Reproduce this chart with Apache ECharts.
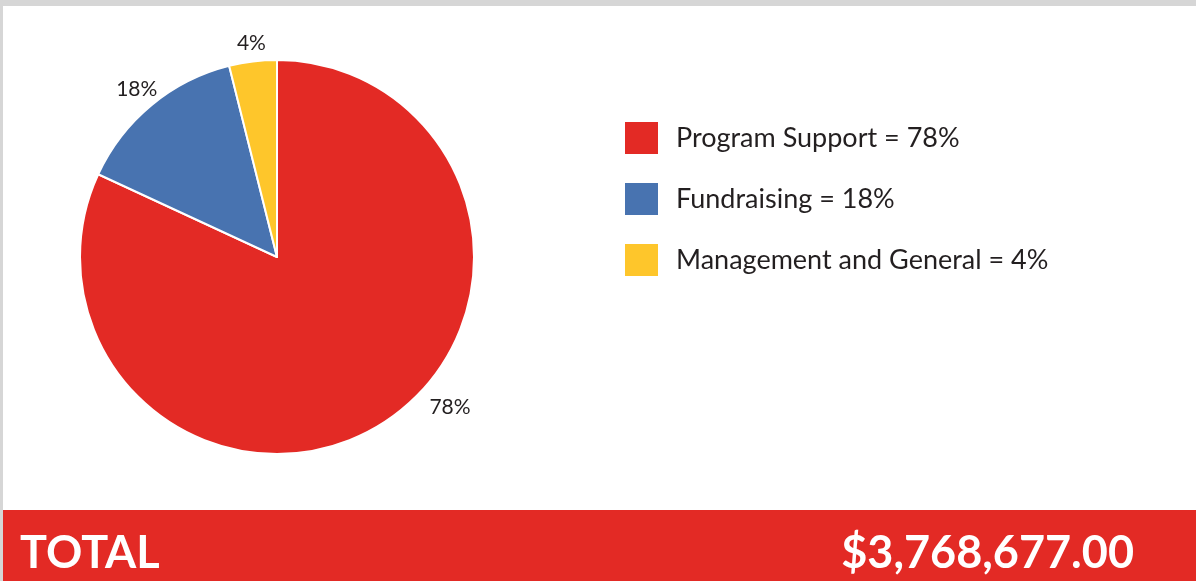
<!DOCTYPE html>
<html>
<head>
<meta charset="utf-8">
<style>
html,body{margin:0;padding:0;background:#fff;}
#chart{width:1196px;height:581px;}
</style>
<script src="https://cdn.jsdelivr.net/npm/echarts@6/dist/echarts.min.js"></script>
</head>
<body>
<div id="chart"></div>
<script>
// Categories and values
const categories = ['Program Support', 'Fundraising', 'Management and General'];
// slice sizes as drawn in the picture
const sliceValues = [81.9, 14.2, 3.9];
// percentages printed in the labels / legend
const labelPercents = [78, 18, 4];
const colors = ['#e32a25', '#4873b0', '#fec62b'];
const totalLabel = 'TOTAL';
const totalValue = '$3,768,677.00';

const font = 'Lato, "Open Sans", sans-serif';
const textColor = '#231f20';

const labelOffsets = [[37, -23], [16, -10], [19, -10]];

const data = categories.map((name, i) => ({
  name: name,
  value: sliceValues[i],
  itemStyle: { color: colors[i] },
  label: { offset: labelOffsets[i] }
}));

const chart = echarts.init(document.getElementById('chart'), null, { renderer: 'canvas' });
chart.setOption({
  backgroundColor: '#ffffff',
  animation: false,
  legend: {
    orient: 'vertical',
    left: 623,
    top: 120,
    padding: 0,
    itemWidth: 35,
    itemHeight: 34,
    itemGap: 25,
    icon: 'rect',
    selectedMode: false,
    data: categories,
    formatter: function (name) {
      const i = categories.indexOf(name);
      return name + ' = ' + labelPercents[i] + '%';
    },
    textStyle: {
      fontFamily: font,
      fontSize: 27,
      color: textColor,
      padding: [0, 0, 0, 12]
    }
  },
  graphic: [
    { type: 'rect', shape: { x: 0, y: 0, width: 1196, height: 6 }, style: { fill: '#d6d6d6' }, silent: true },
    { type: 'rect', shape: { x: 0, y: 0, width: 3, height: 581 }, style: { fill: '#d6d6d6' }, silent: true },
    { type: 'rect', shape: { x: 3, y: 510, width: 1193, height: 71 }, style: { fill: '#e32a25' }, silent: true },
    { type: 'text', left: 20, top: 531, style: { text: totalLabel, fill: '#ffffff', font: 'bold 45px ' + font }, silent: true },
    { type: 'text', right: 62, top: 531, style: { text: totalValue, fill: '#ffffff', font: 'bold 45px ' + font }, silent: true }
  ],
  series: [{
    type: 'pie',
    center: [277, 257],
    radius: [0, 197],
    startAngle: 90,
    clockwise: true,
    avoidLabelOverlap: false,
    itemStyle: { borderColor: '#ffffff', borderWidth: 2 },
    label: {
      show: true,
      position: 'outside',
      fontFamily: font,
      fontSize: 21,
      color: textColor,
      formatter: function (p) { return labelPercents[p.dataIndex] + '%'; }
    },
    labelLine: { show: false, length: 8, length2: 0 },
    emphasis: { disabled: true },
    data: data
  }]
});
</script>
</body>
</html>
